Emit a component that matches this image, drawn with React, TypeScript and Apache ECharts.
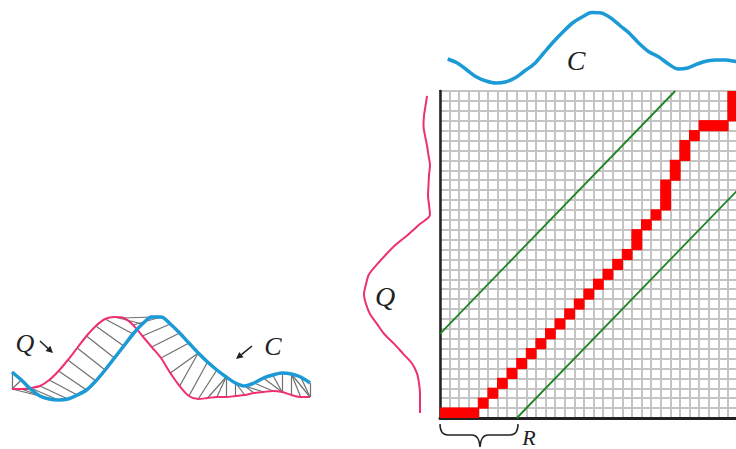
import React, { useEffect, useRef } from "react";
import * as echarts from "echarts";

// ---- Data ----
// Lower-left illustration: Q and C sampled at 33 time steps (amplitude units)
const lowerQ = [1.1, 1.1, 1.2, 1.4, 2.0, 2.9, 4.0, 5.2, 6.4, 7.4, 8.1, 8.3, 8.2, 7.5, 6.4, 5.3, 4.2, 2.7, 1.4, 0.4, 0.1, 0.2, 0.3, 0.3, 0.4, 0.5, 0.7, 0.8, 0.9, 0.8, 0.5, 0.3, 0.3];
const lowerC = [2.8, 2.0, 1.1, 0.4, 0.1, 0.0, 0.1, 0.5, 1.0, 1.9, 3.0, 4.2, 5.4, 6.6, 7.6, 8.3, 8.3, 7.6, 6.7, 5.7, 4.7, 3.8, 3.0, 2.3, 1.7, 1.4, 1.7, 2.2, 2.5, 2.7, 2.6, 2.3, 1.7];
// Top C (above the matrix) and side Q (left of the matrix)
const topC = [3.1, 2.7, 2.0, 1.3, 0.9, 0.7, 0.8, 1.2, 1.9, 2.6, 3.7, 4.8, 5.8, 6.7, 7.3, 7.75, 7.7, 7.2, 6.4, 5.6, 4.6, 3.8, 3.3, 2.6, 2.1, 2.2, 2.6, 2.9, 3.0, 3.0, 2.85, 2.7, 2.4];
const sideQ = [2.0, 2.0, 2.0, 2.1, 2.3, 2.8, 3.7, 4.6, 5.6, 6.3, 7.0, 7.4, 7.6, 7.4, 7.1, 6.3, 5.4, 4.4, 3.2, 2.1, 1.0, 1.1, 1.2, 1.15, 1.1, 1.0, 1.15, 1.3, 1.5, 1.65, 1.6, 1.45, 1.3];
// Warping path cells: [C index (column), Q index (row)]
const warpPath: [number, number][] = [
  [0, 0], [1, 0], [2, 0], [3, 0],
  [4, 1], [5, 2], [6, 3], [7, 4], [8, 5], [9, 6], [10, 7], [11, 8], [12, 9], [13, 10],
  [14, 11], [15, 12], [16, 13], [17, 14], [18, 15], [19, 16],
  [20, 17], [20, 18], [21, 19], [22, 20],
  [23, 21], [23, 22], [23, 23], [24, 24], [24, 25], [25, 26], [25, 27], [26, 28],
  [27, 29], [28, 29], [29, 29], [30, 30], [30, 31], [30, 32], [31, 32], [32, 32],
];
// Sakoe-Chiba band limits (cell units)
const bandUpper = [[0, 8.5], [24.5, 33]];
const bandLower = [[8, 0], [33, 25]];
const N = 33;

const BLUE = "#1b9ad6";
const PINK = "#ee2f74";

const bracePath =
  "M0,0 Q0,11 8,11 L32,11 Q39,11 40,23 Q41,11 48,11 L70,11 Q78,11 78,0";
echarts.graphic.registerShape("brace", echarts.graphic.extendPath(bracePath, {}) as any);

const serif = '"Liberation Serif", "DejaVu Serif", serif';

export default function App() {
  const ref = useRef<HTMLDivElement>(null);
  useEffect(() => {
    if (!ref.current) return;
    const chart = echarts.init(ref.current, null, { renderer: "svg" });
    const hidden = { show: false };
    const matrixAxisBase = {
      type: "value" as const,
      min: 0,
      max: N,
      interval: 1,
      axisLabel: { show: false },
      axisTick: { show: false },
      splitLine: { show: true, lineStyle: { color: "#c4c4c4", width: 2 } },
    };
    const option: any = {
      animation: false,
      backgroundColor: "#ffffff",
      grid: [
        { left: 440, top: 91, width: 316.8, height: 327, show: true, borderColor: "#444", borderWidth: 2, backgroundColor: "#fff", outerBoundsMode: "none", containLabel: false },
        { left: 12, top: 310, width: 298, height: 100, outerBoundsMode: "none", containLabel: false },
        { left: 440, top: 0, width: 316.8, height: 90, outerBoundsMode: "none", containLabel: false },
        { left: 350, top: 91, width: 90, height: 327, outerBoundsMode: "none", containLabel: false },
      ],
      xAxis: [
        { ...matrixAxisBase, gridIndex: 0, axisLine: { show: true, onZero: false, lineStyle: { color: "#222", width: 3 } } },
        { gridIndex: 1, type: "value", min: 0, max: 32, ...hidden },
        { gridIndex: 2, type: "value", min: 0, max: N, ...hidden },
        { gridIndex: 3, type: "value", min: 0, max: 9, inverse: true, ...hidden },
      ],
      yAxis: [
        { ...matrixAxisBase, gridIndex: 0, axisLine: { show: true, onZero: false, lineStyle: { color: "#222", width: 2.5 } } },
        { gridIndex: 1, type: "value", min: -1, max: 9, ...hidden },
        { gridIndex: 2, type: "value", min: 0, max: 9, ...hidden },
        { gridIndex: 3, type: "value", min: 0, max: N, ...hidden },
      ],
      series: [
        {
          type: "custom",
          xAxisIndex: 0,
          yAxisIndex: 0,
          clip: true,
          z: 3,
          data: warpPath,
          renderItem: (_p: any, api: any) => {
            const c = api.value(0);
            const r = api.value(1);
            const p0 = api.coord([c, r + 1]);
            const p1 = api.coord([c + 1, r]);
            return {
              type: "rect",
              shape: { x: p0[0] - 0.6, y: p0[1] - 0.6, width: p1[0] - p0[0] + 1.2, height: p1[1] - p0[1] + 1.2 },
              style: { fill: "#ff0000" },
            };
          },
        },
        {
          type: "line", xAxisIndex: 0, yAxisIndex: 0, data: bandUpper, symbol: "none", clip: true, z: 4,
          lineStyle: { color: "#1f8424", width: 1.8 },
        },
        {
          type: "line", xAxisIndex: 0, yAxisIndex: 0, data: bandLower, symbol: "none", clip: true, z: 4,
          lineStyle: { color: "#1f8424", width: 1.8 },
        },
        {
          type: "lines",
          coordinateSystem: "cartesian2d",
          xAxisIndex: 1,
          yAxisIndex: 1,
          z: 1,
          lineStyle: { color: "#707070", width: 1.2, opacity: 1 },
          data: warpPath.map(([c, r]) => ({ coords: [[r, lowerQ[r]], [c, lowerC[c]]] })),
        },
        {
          type: "line", xAxisIndex: 1, yAxisIndex: 1, z: 2, symbol: "none", smooth: 0.3,
          data: lowerQ.map((v, i) => [i, v]),
          lineStyle: { color: PINK, width: 2 },
        },
        {
          type: "line", xAxisIndex: 1, yAxisIndex: 1, z: 3, symbol: "none", smooth: 0.3,
          data: lowerC.map((v, i) => [i, v]),
          lineStyle: { color: BLUE, width: 3.5 },
        },
        {
          type: "line", xAxisIndex: 2, yAxisIndex: 2, symbol: "none", smooth: 0.3, clip: false,
          data: topC.map((v, i) => [i + 0.8, v]),
          lineStyle: { color: BLUE, width: 3.5 },
        },
        {
          type: "line", xAxisIndex: 3, yAxisIndex: 3, symbol: "none", smooth: 0.3, clip: false,
          data: sideQ.map((v, i) => [v, i + 0.5]),
          lineStyle: { color: PINK, width: 2 },
        },
      ],
      graphic: [
        { type: "text", x: 576, y: 60, style: { text: "C", font: `italic 28px ${serif}`, fill: "#222", align: "center", verticalAlign: "middle" } },
        { type: "text", x: 385, y: 296, style: { text: "Q", font: `italic 28px ${serif}`, fill: "#222", align: "center", verticalAlign: "middle" } },
        { type: "text", x: 25, y: 343, style: { text: "Q", font: `italic 26px ${serif}`, fill: "#222", align: "center", verticalAlign: "middle" } },
        { type: "text", x: 273, y: 346, style: { text: "C", font: `italic 26px ${serif}`, fill: "#222", align: "center", verticalAlign: "middle" } },
        { type: "text", x: 529, y: 437, style: { text: "R", font: `italic 22px ${serif}`, fill: "#222", align: "center", verticalAlign: "middle" } },
        { type: "line", shape: { x1: 40, y1: 341, x2: 48, y2: 348.5 }, style: { stroke: "#222", lineWidth: 1.6 } },
        { type: "polygon", shape: { points: [[53, 353], [45.5, 350.9], [50.3, 345.7]] }, style: { fill: "#222" } },
        { type: "line", shape: { x1: 252, y1: 346, x2: 241.4, y2: 354.6 }, style: { stroke: "#222", lineWidth: 1.6 } },
        { type: "polygon", shape: { points: [[236, 359], [239.2, 351.9], [243.6, 357.3]] }, style: { fill: "#222" } },
        { type: "brace", x: 440, y: 424, style: { stroke: "#222", lineWidth: 1.5, fill: "none" } },
      ],
    };
    chart.setOption(option);
    return () => chart.dispose();
  }, []);
  return (
    <div
      ref={ref}
      style={{ position: "absolute", left: 0, top: 0, width: 736, height: 449 }}
    />
  );
}
